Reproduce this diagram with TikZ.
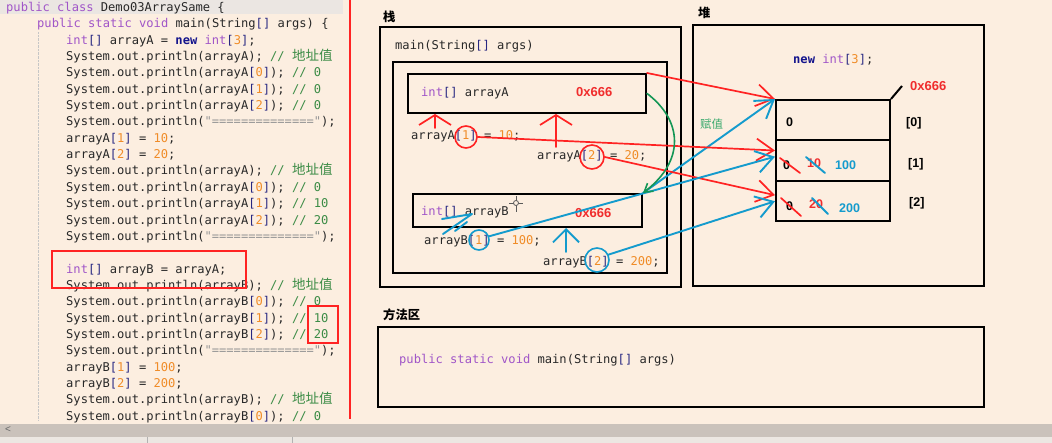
\documentclass[tikz,border=0pt]{standalone}
\usepackage{fontspec}
\setmonofont{DejaVu Sans Mono}
\newfontfamily\cjk{Noto Sans CJK SC}
\newfontfamily\labelfont{Liberation Sans}
\usetikzlibrary{arrows.meta}

\definecolor{bgpeach}{RGB}{252,238,224}
\definecolor{hlgray}{RGB}{235,230,226}
\definecolor{codegray}{RGB}{40,40,40}
\definecolor{kwpurple}{RGB}{160,85,200}
\definecolor{newnavy}{RGB}{20,20,140}
\definecolor{brnavy}{RGB}{40,40,130}
\definecolor{numorange}{RGB}{240,140,40}
\definecolor{cmgreen}{RGB}{60,140,70}
\definecolor{strgray}{RGB}{150,150,150}
\definecolor{penred}{RGB}{255,35,35}
\definecolor{addrred}{RGB}{240,45,45}
\definecolor{penblue}{RGB}{20,155,205}
\definecolor{pengreen}{RGB}{20,150,85}
\definecolor{textgreen}{RGB}{60,170,110}
\definecolor{scrollgray}{RGB}{202,194,187}
\definecolor{statusgray}{RGB}{236,231,226}

% java syntax colours
\newcommand\jkw[1]{\textcolor{kwpurple}{#1}}
\newcommand\jnew[1]{\textcolor{newnavy}{\bfseries #1}}
\newcommand\jbr[1]{\textcolor{brnavy}{#1}}
\newcommand\jnum[1]{\textcolor{numorange}{#1}}
\newcommand\jcom[1]{\textcolor{cmgreen}{#1}}
\newcommand\jstr[1]{\textcolor{strgray}{#1}}
\newcommand\jidx[1]{\jbr{[}\jnum{#1}\jbr{]}}
\newcommand\jcn[1]{{\cjk\fontsize{13.5bp}{14bp}\selectfont #1}}
\newcommand\jprint{System.out.println}
\newcommand\codesize{\fontsize{12.1bp}{14bp}\selectfont}

\begin{document}
\begin{tikzpicture}[x=1bp, y=-1bp,
  codetext/.style={anchor=base west, inner sep=0pt, font=\ttfamily\codesize, text=codegray},
  arealabel/.style={anchor=base west, inner sep=0pt, font=\cjk\bfseries\fontsize{12.3bp}{14bp}\selectfont},
  addr/.style={anchor=base west, inner sep=0pt, font=\labelfont\bfseries\fontsize{13bp}{15bp}\selectfont, text=addrred},
  val/.style={anchor=base west, inner sep=0pt, font=\labelfont\bfseries\fontsize{12.5bp}{14bp}\selectfont},
  memframe/.style={draw=black, line width=2bp},
  varbox/.style={draw=black, line width=2bp, inner sep=0pt},
  cell/.style={draw=black, line width=2bp, inner sep=0pt, minimum width=114bp, minimum height=40.5bp},
  redpen/.style={draw=penred, line width=1.7bp, line cap=round, line join=round},
  bluepen/.style={draw=penblue, line width=1.9bp, line cap=round, line join=round},
  greenpen/.style={draw=pengreen, line width=1.6bp, line cap=round},
  redarrow/.style={redpen, arrows={-Straight Barb[length=17bp,width=22bp]}},
  bluearrow/.style={bluepen, arrows={-Straight Barb[length=17bp,width=22bp]}},
  ring/.style={circle, inner sep=0pt, line width=1.6bp}]

  \fill[bgpeach] (0,0) rectangle (1052,443);
  \useasboundingbox (0,0) rectangle (1052,443);

  % code listing
  \fill[hlgray] (0,0) rectangle (343,14);
  \draw[densely dotted, gray!45] (38,32) -- (38,420);
  \node[codetext] (code1) at (6,11.5) {\jkw{public class} Demo03ArraySame \{};
  \node[codetext] (code2) at (37,27.8) {\jkw{public static void} main(String\jbr{[]} args) \{};
  \foreach \codeline [count=\i from 3] in {
      {\jkw{int}\jbr{[]} arrayA = \jnew{new} \jkw{int}\jidx{3};},
      {\jprint(arrayA); \jcom{// \jcn{地址值}}},
      {\jprint(arrayA\jidx{0}); \jcom{// 0}},
      {\jprint(arrayA\jidx{1}); \jcom{// 0}},
      {\jprint(arrayA\jidx{2}); \jcom{// 0}},
      {\jprint(\jstr{"=============="});},
      {arrayA\jidx{1} = \jnum{10};},
      {arrayA\jidx{2} = \jnum{20};},
      {\jprint(arrayA); \jcom{// \jcn{地址值}}},
      {\jprint(arrayA\jidx{0}); \jcom{// 0}},
      {\jprint(arrayA\jidx{1}); \jcom{// 10}},
      {\jprint(arrayA\jidx{2}); \jcom{// 20}},
      {\jprint(\jstr{"=============="});},
      {},
      {\jkw{int}\jbr{[]} arrayB = arrayA;},
      {\jprint(arrayB); \jcom{// \jcn{地址值}}},
      {\jprint(arrayB\jidx{0}); \jcom{// 0}},
      {\jprint(arrayB\jidx{1}); \jcom{// 10}},
      {\jprint(arrayB\jidx{2}); \jcom{// 20}},
      {\jprint(\jstr{"=============="});},
      {arrayB\jidx{1} = \jnum{100};},
      {arrayB\jidx{2} = \jnum{200};},
      {\jprint(arrayB); \jcom{// \jcn{地址值}}},
      {\jprint(arrayB\jidx{0}); \jcom{// 0}}}
    \node[codetext] (code\i) at (66,{11.5+(\i-1)*16.35}) {\codeline};
  \draw[penred, line width=1.8bp] (52,251) rectangle (246,288);
  \draw[penred, line width=1.8bp] (308,306) rectangle (338,343);
  \draw[penred, line width=2bp] (350,0) -- (350,419);

  % stack
  \node[arealabel] (stacklbl) at (383,21.5) {栈};
  \draw[memframe] (380,27) rectangle (681,287);
  \draw[memframe] (393,62) rectangle (667,273);
  \node[codetext] (mainsig) at (395,49.5) {main(String\jbr{[]} args)};
  \node[varbox, minimum width=238bp, minimum height=39bp] (boxA) at (527,93.5) {};
  \node[codetext] (declA) at (421,96.5) {\jkw{int}\jbr{[]} arrayA};
  \node[addr] (addrA) at (576,96.5) {0x666};
  \node[codetext] (lineA1) at (411,139.5) {arrayA\jidx{1} = \jnum{10};};
  \node[codetext] (lineA2) at (537,159.5) {arrayA\jidx{2} = \jnum{20};};
  \node[varbox, minimum width=229bp, minimum height=33bp] (boxB) at (527.5,210.5) {};
  \node[codetext] (declB) at (421,215.5) {\jkw{int}\jbr{[]} arrayB};
  \node[addr] (addrB) at (575,217.5) {0x666};
  \node[codetext] (lineB1) at (424,244.5) {arrayB\jidx{1} = \jnum{100};};
  \node[codetext] (lineB2) at (543,265.5) {arrayB\jidx{2} = \jnum{200};};

  % heap
  \node[arealabel] (heaplbl) at (698,18) {堆};
  \draw[memframe] (693,25) rectangle (984,286);
  \node[codetext] (newarr) at (793,63.5) {\jnew{new} \jkw{int}\jidx{3};};
  \node[addr] (addrH) at (910,90.5) {0x666};
  \node[cell] (cell0) at (833,120.25) {};
  \node[cell] (cell1) at (833,160.75) {};
  \node[cell] (cell2) at (833,201.25) {};
  \coordinate (tick) at (902,86);
  \draw[line width=2bp] (cell0.north east) -- (tick);
  \node[val] (v0) at (786,126.5) {0};
  \node[val] (v1a) at (783,170) {0};
  \node[val, text=addrred] (v1b) at (807,168) {10};
  \node[val, text=penblue] (v1c) at (835,170) {100};
  \node[val] (v2a) at (786,211) {0};
  \node[val, text=addrred] (v2b) at (809,209) {20};
  \node[val, text=penblue] (v2c) at (839,213) {200};
  \node[val] (i0) at (906,127) {[0]};
  \node[val] (i1) at (908,168) {[1]};
  \node[val] (i2) at (909,207) {[2]};
  \node[anchor=base west, inner sep=0pt, font=\cjk\fontsize{11.5bp}{13bp}\selectfont, text=textgreen] (assign) at (700,128.5) {赋值};

  % method area
  \node[arealabel] (methlbl) at (383,319.5) {方法区};
  \draw[memframe] (378,327) rectangle (984,407);
  \node[codetext] (msig) at (399,363.5) {\jkw{public static void} main(String\jbr{[]} args)};

  % pen marks
  \node[ring, draw=penred, minimum size=22bp] (ringA1) at (466,137) {};
  \node[ring, draw=penred, minimum size=24bp] (ringA2) at (592,157) {};
  \node[ring, draw=penblue, minimum size=20bp] (ringB1) at (479,240) {};
  \node[ring, draw=penblue, minimum size=24bp] (ringB2) at (597,260) {};
  \draw[redarrow] (boxA.north east) -- (cell0.north west);
  \draw[bluearrow] (boxB.north east) -- (cell0.north west);
  \draw[redarrow] (ringA1.east) -- (cell1.170);
  \draw[redarrow] (ringA2.east) -- (cell2.174);
  \draw[bluearrow] (ringB1.20) -- (cell1.176);
  \draw[bluearrow] (ringB2.25) -- (cell2.west);
  \draw[greenpen, arrows={-Straight Barb[length=8bp,width=10bp]}] (boxA.east)
    .. controls (682,120) and (686,160) .. (boxB.north east);
  \coordinate (upA1) at (435,128);
  \coordinate (upA2) at (556,147);
  \coordinate (upB2) at (566,252);
  \draw[redpen, arrows={-Straight Barb[length=10bp,width=32bp]}] (upA1) -- (upA1 |- boxA.south);
  \draw[redpen, arrows={-Straight Barb[length=10bp,width=32bp]}] (upA2) -- (upA2 |- boxA.south);
  \draw[bluepen, arrows={-Straight Barb[length=13bp,width=26bp]}] (upB2) -- (upB2 |- boxB.south);
  \draw[bluepen] (443,234) -- (472,214) -- (442,219);
  \draw[bluepen] (455,231) -- (467,222);
  \draw[redpen] (780,158) -- (800,173);
  \draw[bluepen] (806,157) -- (825,173);
  \draw[redpen] (781,198) -- (801,216);
  \draw[bluepen] (812,198) -- (828,214);

  % cursor
  \draw[gray!70!black, line width=0.8bp] (509,203) -- (523,203) (516,196) -- (516,212);
  \draw[gray!70!black, line width=0.8bp, fill=bgpeach] (516,203) circle (2.5bp);

  % scroll bar
  \fill[scrollgray] (0,424) rectangle (1052,437);
  \fill[statusgray] (0,437) rectangle (1052,443);
  \draw[gray!60] (147,437) -- (147,443) (292,437) -- (292,443);
  \node[font=\labelfont\fontsize{10bp}{12bp}\selectfont, text=gray!80!black, inner sep=0pt] (scrollleft) at (8,430) {<};
\end{tikzpicture}
\end{document}
